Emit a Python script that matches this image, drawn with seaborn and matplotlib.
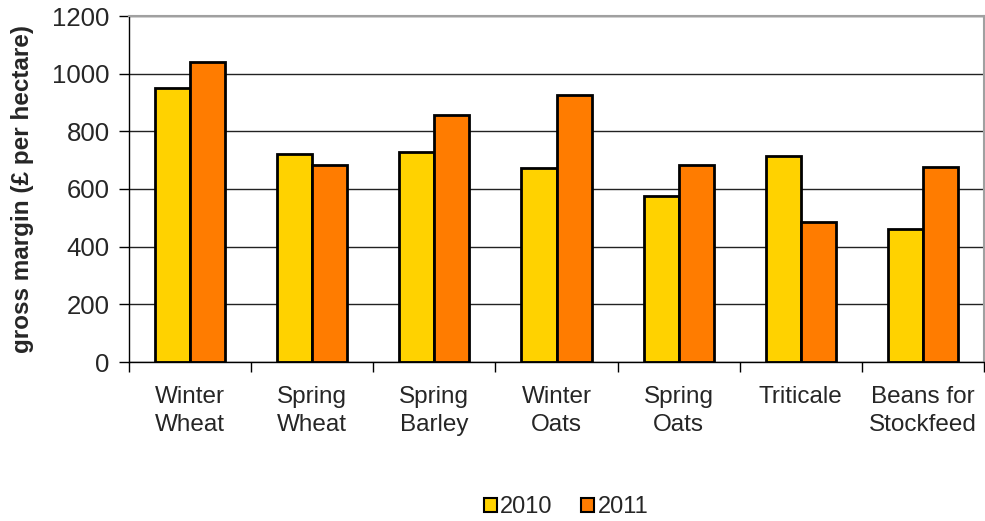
import numpy as np
import pandas as pd
import seaborn as sns
import matplotlib.pyplot as plt

# crop gross margins
crops = ["Winter\nWheat", "Spring\nWheat", "Spring\nBarley", "Winter\nOats",
         "Spring\nOats", "Triticale", "Beans for\nStockfeed"]
margin_2010 = [950, 722, 729, 674, 577, 716, 461]
margin_2011 = [1040, 682, 855, 925, 683, 486, 675]
years = ["2010", "2011"]
colors = ["#FFD200", "#FF7C00"]

df = pd.DataFrame({"crop": crops * 2,
                   "year": [years[0]] * len(crops) + [years[1]] * len(crops),
                   "margin": margin_2010 + margin_2011})

sns.set_style("white")
plt.rcParams['font.family'] = ['Liberation Sans', 'DejaVu Sans']

fig = plt.figure(figsize=(9.85, 5.21), dpi=100)
ax = fig.add_axes([129 / 985, 1 - 362 / 521, (984 - 129) / 985, (362 - 16) / 521])

sns.barplot(data=df, x="crop", y="margin", hue="year", palette=colors,
            width=0.575, gap=0, edgecolor="black", linewidth=2,
            saturation=1, ax=ax, legend=False)

ax.set_ylim(0, 1200)
ax.set_xlim(-0.5, len(crops) - 0.5)
ax.set_yticks(np.arange(0, 1201, 200))
ax.yaxis.grid(True, color="#222222", linewidth=1)
ax.set_axisbelow(True)

# spines like the old spreadsheet chart
for s in ["top", "right"]:
    ax.spines[s].set_color("#a0a0a0")
    ax.spines[s].set_linewidth(1.5)
for s in ["left", "bottom"]:
    ax.spines[s].set_color("black")
    ax.spines[s].set_linewidth(1)

ax.tick_params(axis="y", direction="out", length=7, width=1, color="black",
               labelsize=18.5, left=True, pad=7)
ax.tick_params(axis="x", which="major", length=0, labelsize=17.5, pad=17)
ax.set_xticks(np.arange(-0.5, len(crops)), minor=True)
ax.tick_params(axis="x", which="minor", direction="out", length=7, width=1,
               color="black", bottom=True)
ax.set_xticklabels(crops, linespacing=1.35)

ax.set_xlabel("")
ax.set_ylabel("gross margin (£ per hectare)", fontsize=17.5, fontweight="bold",
              labelpad=13)

handles = [plt.Rectangle((0, 0), 1, 1, facecolor=c, edgecolor="black", linewidth=1.5)
           for c in colors]
fig.legend(handles, years, loc="center", bbox_to_anchor=(566 / 985, 1 - 507 / 521),
           ncol=2, frameon=False, fontsize=17, handlelength=0.55, handleheight=0.55,
           handletextpad=0.15, columnspacing=1.2)

fig.savefig("out.png", dpi=100)
